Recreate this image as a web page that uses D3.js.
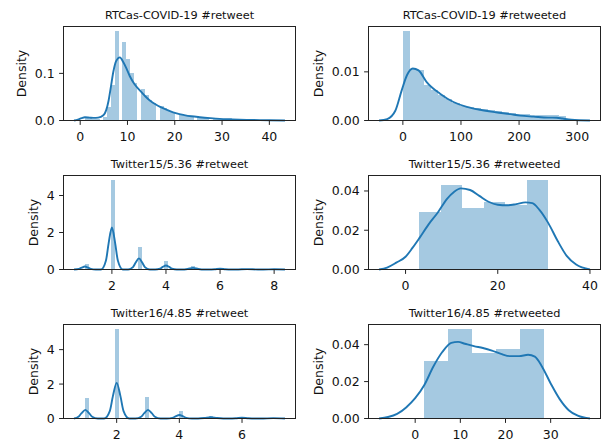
<!DOCTYPE html>
<html>
<head>
<meta charset="utf-8">
<script src="https://cdnjs.cloudflare.com/ajax/libs/d3/7.8.5/d3.min.js"></script>
<style>
  body { margin: 0; background: #fff; }
  svg { display: block; font-family: "DejaVu Sans", sans-serif; }
</style>
</head>
<body>
<div id="chart"></div>
<script>
// ---- RTCas-COVID-19 #retweet (integer counts, narrow bins) ----
var covidRetweetBins = { start: 0.95, width: 0.795, count: 51 };
var covidRetweetX = [1, 2, 3, 4, 5, 6, 7, 8, 9, 10, 11, 12, 13, 14, 15, 16, 17, 18, 19, 20,
  21, 22, 23, 24, 25, 26, 27, 28, 29, 30, 31, 32, 33, 34, 35, 36, 37, 38, 39, 40, 41];
var covidRetweetDensity = [0.008, 0.006, 0.004, 0.003, 0.008, 0.028, 0.075, 0.19, 0.166, 0.131,
  0.101, 0.08, 0.066, 0.054, 0.044, 0.037, 0.031, 0.026, 0.021, 0.018,
  0.014, 0.012, 0.010, 0.0085, 0.007, 0.006, 0.005, 0.0042, 0.0036, 0.003,
  0.0027, 0.0024, 0.002, 0.0018, 0.0015, 0.0012, 0.001, 0.0009, 0.0007, 0.0005, 0.0004];
var covidRetweetKde = [[-1.3, 0], [-0.5, 0.002], [0.3, 0.005], [1.0, 0.0068], [2.0, 0.006],
  [2.8, 0.0055], [3.8, 0.006], [4.9, 0.011], [5.5, 0.022], [6.0, 0.042], [6.5, 0.072],
  [7.0, 0.103], [7.6, 0.126], [8.4, 0.134], [9.1, 0.124], [9.8, 0.110], [10.5, 0.094],
  [11.5, 0.077], [12.7, 0.063], [13.8, 0.051], [14.8, 0.042], [16.0, 0.034], [16.9, 0.029],
  [18.5, 0.022], [20.4, 0.015], [22, 0.0115], [23.5, 0.009], [25.3, 0.007], [27.5, 0.005],
  [29.5, 0.0035], [32, 0.0025], [35.2, 0.0014], [38, 0.0008], [40, 0.0005], [43.3, 0]];
var covidRetweetXTicks = [0, 10, 20, 30, 40];
var covidRetweetYTicks = [0, 0.1];

// ---- RTCas-COVID-19 #retweeted ----
var covidRetweetedBins = { start: 0, width: 12.2, count: 23 };
var covidRetweetedX = [6.1, 18.3, 30.5, 42.7, 54.9, 67.1, 79.3, 91.5, 103.7, 115.9, 128.1, 140.3,
  152.5, 164.7, 176.9, 189.1, 201.3, 213.5, 225.7, 237.9, 250.1, 262.3, 274.5];
var covidRetweetedDensity = [0.0184, 0.0105, 0.0104, 0.0072, 0.0062, 0.0052, 0.0045, 0.0036,
  0.0029, 0.0027, 0.0025, 0.0023, 0.0021, 0.002, 0.0018, 0.0016, 0.0014, 0.0013, 0.0012,
  0.0012, 0.0012, 0.0012, 0.0009];
var covidRetweetedKde = [[-41, 0], [-27, 0.0003], [-13, 0.002], [-2, 0.0062], [7, 0.0093],
  [17, 0.0107], [27, 0.0103], [41, 0.0079], [64, 0.0055], [87, 0.0038], [110, 0.0028],
  [133, 0.0022], [160, 0.0017], [185, 0.0013], [202, 0.001], [225, 0.0008], [250, 0.0006],
  [265, 0.00058], [275, 0.0004], [290, 0.00015], [322, 0]];
var covidRetweetedXTicks = [0, 100, 200, 300];
var covidRetweetedYTicks = [0, 0.01];

// ---- Twitter15/5.36 #retweet ----
var t15RetweetBins = { start: 1, width: 0.14, count: 50 };
var t15RetweetX = [1, 2, 3, 4, 5, 6, 7, 8];
var t15RetweetDensity = [0.31, 4.84, 1.22, 0.45, 0.2, 0.08, 0.04, 0.03];
var t15RetweetKde = [[0.6, 0], [0.78, 0.035], [0.88, 0.1], [1, 0.16], [1.12, 0.1], [1.22, 0.035], [1.4, 0],
  [1.6, 0], [1.78, 0.48], [1.88, 1.43], [2, 2.27], [2.12, 1.43], [2.22, 0.48], [2.4, 0],
  [2.6, 0], [2.78, 0.13], [2.88, 0.38], [3, 0.6], [3.12, 0.38], [3.22, 0.13], [3.4, 0],
  [3.6, 0], [3.78, 0.045], [3.88, 0.14], [4, 0.22], [4.12, 0.14], [4.22, 0.045], [4.4, 0],
  [4.6, 0], [4.8, 0.03], [5, 0.09], [5.2, 0.03], [5.4, 0],
  [5.6, 0], [5.8, 0.013], [6, 0.04], [6.2, 0.013], [6.4, 0],
  [6.6, 0], [7, 0.02], [7.4, 0], [7.6, 0], [8, 0.015], [8.4, 0]];
var t15RetweetXTicks = [2, 4, 6, 8];
var t15RetweetYTicks = [0, 2, 4];

// ---- Twitter15/5.36 #retweeted ----
var t15RetweetedBins = { start: 3, width: 4.667, count: 6 };
var t15RetweetedX = [5.33, 10, 14.67, 19.33, 24, 28.67];
var t15RetweetedDensity = [0.0295, 0.043, 0.0312, 0.0346, 0.0326, 0.0456];
var t15RetweetedKde = [[-5.75, 0], [-4, 0.001], [-2, 0.0035], [0, 0.0065], [1.5, 0.011], [3, 0.016],
  [5, 0.023], [7, 0.029], [9, 0.036], [10.5, 0.0395], [12, 0.0413], [14, 0.0405], [16, 0.0375],
  [18, 0.0345], [20, 0.033], [22, 0.0327], [24, 0.0333], [26, 0.0342], [27.5, 0.0338],
  [29, 0.0305], [31, 0.0235], [33, 0.0145], [35, 0.0068], [37, 0.0025], [40, 0]];
var t15RetweetedXTicks = [0, 20, 40];
var t15RetweetedYTicks = [0, 0.02, 0.04];

// ---- Twitter16/4.85 #retweet ----
var t16RetweetBins = { start: 1, width: 0.12, count: 50 };
var t16RetweetX = [1, 2, 3, 4, 5, 6, 7];
var t16RetweetDensity = [1.2, 5.2, 1.23, 0.42, 0.15, 0.07, 0.04];
var t16RetweetKde = [[0.64, 0], [0.78, 0.1], [0.88, 0.31], [1, 0.5], [1.12, 0.31], [1.22, 0.1], [1.4, 0],
  [1.6, 0], [1.78, 0.43], [1.88, 1.3], [2, 2.07], [2.12, 1.3], [2.22, 0.43], [2.4, 0],
  [2.6, 0], [2.78, 0.1], [2.88, 0.31], [3, 0.5], [3.12, 0.31], [3.22, 0.1], [3.4, 0],
  [3.6, 0], [3.78, 0.04], [3.88, 0.12], [4, 0.2], [4.12, 0.12], [4.22, 0.04], [4.4, 0],
  [4.6, 0], [4.8, 0.027], [5, 0.08], [5.2, 0.027], [5.4, 0],
  [5.6, 0], [5.8, 0.013], [6, 0.04], [6.2, 0.013], [6.4, 0],
  [6.6, 0], [7, 0.02], [7.37, 0]];
var t16RetweetXTicks = [2, 4, 6];
var t16RetweetYTicks = [0, 2, 4];

// ---- Twitter16/4.85 #retweeted ----
var t16RetweetedBins = { start: 1.9, width: 5.33, count: 5 };
var t16RetweetedX = [4.57, 9.9, 15.23, 20.56, 25.89];
var t16RetweetedDensity = [0.031, 0.0485, 0.0355, 0.0377, 0.0485];
var t16RetweetedKde = [[-8, 0], [-6, 0.0008], [-4, 0.0025], [-2, 0.006], [0, 0.011], [2, 0.018],
  [4, 0.028], [6, 0.036], [8, 0.041], [9.5, 0.0415], [11, 0.0405], [13, 0.0392], [15, 0.0382],
  [17, 0.0368], [19, 0.035], [21, 0.0338], [23, 0.0338], [25, 0.0345], [26.5, 0.0335],
  [28, 0.0285], [30, 0.019], [32, 0.0105], [34, 0.0045], [36, 0.0015], [38.7, 0]];
var t16RetweetedXTicks = [0, 10, 20, 30];
var t16RetweetedYTicks = [0, 0.02, 0.04];

var panels = [
  { title: "RTCas-COVID-19 #retweet", row: 0, col: 0, bins: covidRetweetBins, x: covidRetweetX,
    density: covidRetweetDensity, kde: covidRetweetKde, xTicks: covidRetweetXTicks, yTicks: covidRetweetYTicks, yFormat: ".1f" },
  { title: "RTCas-COVID-19 #retweeted", row: 0, col: 1, bins: covidRetweetedBins, x: covidRetweetedX,
    density: covidRetweetedDensity, kde: covidRetweetedKde, xTicks: covidRetweetedXTicks, yTicks: covidRetweetedYTicks, yFormat: ".2f" },
  { title: "Twitter15/5.36 #retweet", row: 1, col: 0, bins: t15RetweetBins, x: t15RetweetX,
    density: t15RetweetDensity, kde: t15RetweetKde, xTicks: t15RetweetXTicks, yTicks: t15RetweetYTicks, yFormat: "d" },
  { title: "Twitter15/5.36 #retweeted", row: 1, col: 1, bins: t15RetweetedBins, x: t15RetweetedX,
    density: t15RetweetedDensity, kde: t15RetweetedKde, xTicks: t15RetweetedXTicks, yTicks: t15RetweetedYTicks, yFormat: ".2f" },
  { title: "Twitter16/4.85 #retweet", row: 2, col: 0, bins: t16RetweetBins, x: t16RetweetX,
    density: t16RetweetDensity, kde: t16RetweetKde, xTicks: t16RetweetXTicks, yTicks: t16RetweetYTicks, yFormat: "d" },
  { title: "Twitter16/4.85 #retweeted", row: 2, col: 1, bins: t16RetweetedBins, x: t16RetweetedX,
    density: t16RetweetedDensity, kde: t16RetweetedKde, xTicks: t16RetweetedXTicks, yTicks: t16RetweetedYTicks, yFormat: ".2f" }
];

// figure layout (matplotlib-like subplot grid)
var svgWidth = 611;
var svgHeight = 439;
var cols = [{ left: 63.5, right: 295.5 }, { left: 368.5, right: 600.5 }];
var rows = [{ top: 26.5, bottom: 120.5 }, { top: 175.5, bottom: 269.5 }, { top: 324.5, bottom: 418.5 }];

var tickLen = 4.4;
var tickPad = 4.4;
var tickFont = 12.5;
var titleFont = 11.3;
var histColor = "#a5c9e1";   // C0 at alpha 0.4 on white
var lineColor = "#1f77b4";

var svg = d3.select("#chart")
  .append("svg")
  .attr("width", svgWidth)
  .attr("height", svgHeight);

svg.append("rect")
  .attr("width", svgWidth)
  .attr("height", svgHeight)
  .attr("fill", "#fff");

panels.forEach(function(p) {
  var c = cols[p.col];
  var r = rows[p.row];

  // x limits: kde extent plus 5% margins, like matplotlib autoscale
  var xExt = d3.extent(p.kde, d => d[0]);
  var xPad = (xExt[1] - xExt[0]) * 0.05;
  var xScale = d3.scaleLinear()
    .domain([xExt[0] - xPad, xExt[1] + xPad])
    .range([c.left, c.right]);

  var yMax = Math.max(d3.max(p.density), d3.max(p.kde, d => d[1]));
  var yScale = d3.scaleLinear()
    .domain([0, yMax * 1.05])
    .range([r.bottom, r.top]);

  var g = svg.append("g");

  // histogram bars
  function binLeft(v) {
    var i = Math.floor((v - p.bins.start) / p.bins.width + 1e-9);
    i = Math.min(i, p.bins.count - 1);
    return p.bins.start + i * p.bins.width;
  }
  var bars = d3.zip(p.x, p.density);
  g.selectAll("rect.bar")
    .data(bars)
    .enter()
    .append("rect")
    .attr("class", "bar")
    .attr("x", d => xScale(binLeft(d[0])))
    .attr("width", d => xScale(binLeft(d[0]) + p.bins.width) - xScale(binLeft(d[0])))
    .attr("y", d => yScale(d[1]))
    .attr("height", d => yScale(0) - yScale(d[1]))
    .attr("fill", histColor)
    .attr("shape-rendering", "crispEdges");

  // kde line
  var line = d3.line()
    .x(d => xScale(d[0]))
    .y(d => yScale(d[1]))
    .curve(d3.curveMonotoneX);
  g.append("path")
    .datum(p.kde)
    .attr("d", line)
    .attr("fill", "none")
    .attr("stroke", lineColor)
    .attr("stroke-width", 1.9)
    .attr("stroke-linejoin", "round");

  // frame
  g.append("rect")
    .attr("x", c.left)
    .attr("y", r.top)
    .attr("width", c.right - c.left)
    .attr("height", r.bottom - r.top)
    .attr("fill", "none")
    .attr("stroke", "#222")
    .attr("stroke-width", 1);

  // x ticks
  var xt = g.append("g");
  p.xTicks.forEach(function(t) {
    var px = xScale(t);
    xt.append("line")
      .attr("x1", px).attr("x2", px)
      .attr("y1", r.bottom).attr("y2", r.bottom + tickLen)
      .attr("stroke", "#222");
    xt.append("text")
      .attr("x", px)
      .attr("y", r.bottom + 20.3)
      .attr("text-anchor", "middle")
      .attr("font-size", tickFont)
      .attr("fill", "#111")
      .text(d3.format("d")(t));
  });

  // y ticks
  var yt = g.append("g");
  p.yTicks.forEach(function(t) {
    var py = yScale(t);
    yt.append("line")
      .attr("x1", c.left - tickLen).attr("x2", c.left)
      .attr("y1", py).attr("y2", py)
      .attr("stroke", "#222");
    yt.append("text")
      .attr("x", c.left - tickLen - tickPad)
      .attr("y", py + 4.5)
      .attr("text-anchor", "end")
      .attr("font-size", tickFont)
      .attr("fill", "#111")
      .text(d3.format(p.yFormat)(t));
  });

  // y label placed left of the tick labels
  var labelsLeft = d3.min(yt.selectAll("text").nodes(), n => n.getBBox().x);
  var lx = labelsLeft - 9.2;
  var ly = (r.top + r.bottom) / 2;
  g.append("text")
    .attr("transform", `translate(${lx}, ${ly}) rotate(-90)`)
    .attr("text-anchor", "middle")
    .attr("font-size", tickFont)
    .attr("fill", "#111")
    .text("Density");

  // title
  g.append("text")
    .attr("x", (c.left + c.right) / 2)
    .attr("y", r.top - 7.8)
    .attr("text-anchor", "middle")
    .attr("font-size", titleFont)
    .attr("fill", "#111")
    .text(p.title);
});
</script>
</body>
</html>
